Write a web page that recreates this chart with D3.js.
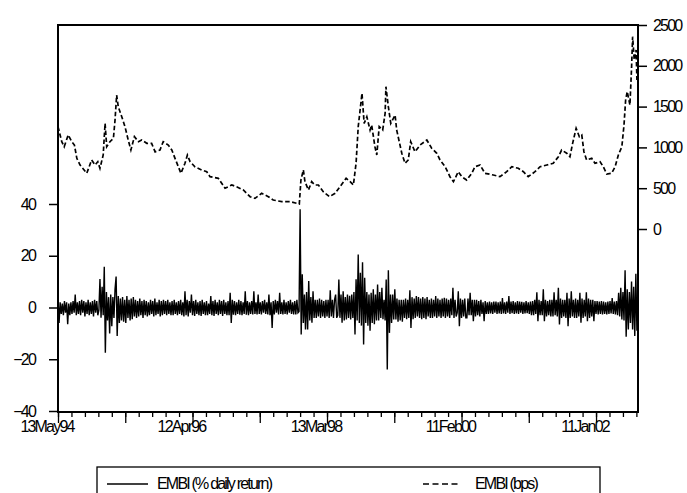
<!DOCTYPE html>
<html><head><meta charset="utf-8">
<script src="https://cdn.jsdelivr.net/npm/d3@7"></script>
<style>
html,body{margin:0;padding:0;background:#fff;}
svg text{font-family:"Liberation Sans",Arial,sans-serif;font-size:16px;letter-spacing:-1.8px;fill:#000;}
</style></head>
<body><svg id="c" width="687" height="493"></svg>
<script>
// ---------- data ----------
const dateLabels = ["13May94","12Apr96","13Mar98","11Feb00","11Jan02"];
const dateLabelObs = [0,500,1000,1500,2000];
const leftTicks = [-40,-20,0,20,40];
const rightTicks = [0,500,1000,1500,2000,2500];
const seriesNames = ["EMBI (% daily return)","EMBI (bps)"];
const nObs = 2156;

// EMBI spread level (bps), observation index
const levelObs = [0,14,23,38,51,61,70,82,107,125,138,148,156,168,175,181,193,206,212,218,224,237,249,261,271,284,299,311,330,348,361,379,391,410,423,435,457,472,481,491,509,534,553,565,596,621,646,664,689,714,732,757,782,800,832,862,887,897,903,912,918,931,943,955,968,986,1009,1030,1048,1071,1086,1098,1108,1116,1123,1130,1138,1148,1160,1166,1178,1185,1194,1207,1216,1219,1228,1237,1253,1259,1278,1290,1302,1311,1327,1346,1371,1389,1408,1420,1439,1457,1470,1488,1501,1519,1538,1550,1569,1587,1618,1643,1668,1687,1711,1730,1748,1773,1792,1817,1841,1860,1872,1891,1903,1913,1926,1938,1947,1955,1965,1984,1996,2015,2027,2040,2058,2071,2083,2096,2104,2110,2116,2126,2132,2136,2142,2149,2152];
const levelBps = [1254,1070,1009,1152,1070,1029,866,784,683,846,784,825,744,907,1295,1009,1070,1112,1336,1642,1499,1376,1254,1091,968,1131,1070,1091,1050,1050,946,968,1070,1029,968,866,683,805,907,825,763,723,702,641,621,499,539,518,478,396,376,437,396,355,335,335,315,306,600,723,580,478,580,539,539,457,396,437,518,621,580,539,805,1254,1458,1663,1295,1376,1213,1275,1009,907,1254,1213,1418,1744,1499,1295,1397,1213,928,805,846,1070,947,1029,1091,989,928,846,763,641,580,702,641,600,683,763,784,683,662,641,702,763,744,702,641,702,763,784,805,886,968,928,886,1050,1234,1131,1152,947,846,866,805,825,763,674,683,763,907,1009,1275,1581,1683,1520,1969,2357,2071,2194,1826];

// daily return (%), one reading every 4 observations
const returnStep = 4;
const returns = [
3.5,-6,2,-2.5,1.5,-3,2.5,-2,2,-6.5,1.5,-3,2,-2.5,2.5,-2,5,-3,2,-2.5,
2.5,-3,3,-2,2.5,-3.5,2,-2.5,3,-3,2,-2.5,2.5,-3.5,3,-2,2.5,-3,-1,11,
-4,8,-3,15.7,-17.5,6,-5,4,-10,5,-7.2,4,-4,7,12,-11,4.4,-6,3.5,-5,
4,-5.5,3,-6,4.4,-4,3,-5,3.5,-4.5,4,-3.5,3,-4,2.5,-3.5,3.5,-3,2.5,-4,
3,-3,2.5,-3.5,2,-3,3,-2.5,2.5,-3.5,3.5,-3,2,-2.5,3,-3.5,2.5,-3,3,-2.5,
2.5,-3,3,-2.5,2,-3,2.5,-3,3,-2.5,2,-3,2.5,-2.5,3,-3,2,-3.5,6.3,-3,
3,-3.5,2.5,-2,5,-3,2.5,-3.3,3,-2.5,2,-3,2.5,-3.3,3,-2.5,2,-3,2.5,-3,
1.5,-2.5,4.4,-3,2.5,-3.3,3,-2.5,2,-3,3,-2.5,2.5,-3.3,3,-2.5,2,-3,2.5,-3,
5.7,-6,3,-2.8,2.5,-3,2,-2.5,3,-2.8,2.5,-3,2,-2.5,6.3,-2.8,2.5,-3,2,-2.5,
2.5,-2.7,6.3,-2.5,2,-2.7,5,-2.5,2,-2.7,2.5,-2,3,-2.5,2,-2.7,5,-3,2,-7.9,
2.5,-2.7,3,-2,2.5,-2.7,5.7,-2.5,2,-2.7,3,-2.5,2,-2.7,2.5,-2,3,-2.5,2,-2.7,
2.5,-2.7,3,-2,-1.5,38,-10.4,12.8,-6,5,-8.5,6,-8.5,10.2,-5,4,-5.9,6.3,-4,3,
-4,3,-3.5,3.5,-4,3,-3.5,2.5,-4,3,-3.5,3,-4,6.7,-3.5,3,-4,3,5,-4,
-3,10.8,-4,5,-5.9,6.3,-5,4,-4.6,5,-4,4.5,-4.6,5,-4,6,-10.4,10.9,-5,20.5,
-6,13.4,-7,17.5,-14.3,11.5,-6,6,-7,5,-9,5.7,-6,7,-6.5,5,-5,8.9,-5,6,
-4,7.6,-4.5,3,-5,10.8,-24,14.4,-9.8,5,-6,5,-4.6,7,-4.6,3.5,-5.5,3,-5,3,
-5.5,3,-4,3.5,-4.5,3,-4,6.7,-7.9,4,-4.5,3.5,-4,4.4,-3.5,4,-4,3.5,-4.5,4,
-4,3.5,-4.5,4,-3.5,3,-4,3.5,-4,3,-3.5,4.4,-4,3.5,-3.5,3,-4,3.5,-3.5,3.8,
-4,3.5,-3.5,3,-4,3.5,-3,7.6,-4,3,-3.5,-2,6.3,-7.2,3.5,-4,3,-3.5,3.5,-4,
-4,3.5,-3,5.7,-3,3,-5.3,3,-3.5,3,-3,2.5,-3.5,3,-2.5,2,-5.3,2.5,-2.5,2,
-2.5,2.3,-2.3,2,-2.5,2.3,-2,2.3,-2.5,2,-2.3,2.3,-2.5,3.7,-2.3,2,-2.5,2.3,-2,4.4,
-2.5,2.3,-2.2,2.5,-2.5,2,-2.3,2.5,-2.5,2.3,-2,2.2,-2.5,2,-2.3,2.5,-2.2,2,-2.5,2.3,
-3,2.5,-3,3,-2.5,5.9,-5.3,3,-3,2.5,-3,7,-5.3,3,-3.5,2.5,-3,3,-3.5,3,
-3.5,5.9,-3,3,-3.5,7.6,-6.6,3.5,-4,3,-3.5,3,-4,5.7,-7.2,3.5,-4,6.3,-3.5,3,
-4,3.5,-4,3,-3.5,5.7,-5.9,3.5,-4,3,-3.5,5.9,-5.3,3.5,-4,3,-3.5,3,-5.3,2.5,
-2.5,2.5,-2.7,2.3,-2.5,2.5,-2.7,2.3,-2.5,2,-2.7,2.3,-2.5,2.5,-2.3,3.7,-2.5,2.3,-2.7,2.5,
-3,5.7,-3.5,7.6,-4.6,6,-5,14.4,-11.3,7,-8.5,6,-6,10,-8.5,8,-11,13,-9
];

// ---------- layout ----------
const L = 58, R = 638, T = 25, B = 412;
const svg = d3.select("#c");

const x = d3.scaleLinear().domain([0, nObs]).range([L, R]);
const yL = d3.scaleLinear().domain([-40, 40]).range([411, 204]);
const yR = d3.scaleLinear().domain([0, 2500]).range([229, 25]);

svg.append("clipPath").attr("id","pc").append("rect")
  .attr("x",L).attr("y",T).attr("width",R-L).attr("height",B-T);

const plot = svg.append("g").attr("clip-path","url(#pc)");

const levelData = levelObs.map((o,i)=>({o, v: levelBps[i]}));
const retData = returns.map((v,i)=>({o: i*returnStep, v}));

plot.append("path").datum(levelData)
  .attr("fill","none").attr("stroke","#000").attr("stroke-width",1.7)
  .attr("stroke-dasharray","4.5,2.5")
  .attr("d", d3.line().x(d=>x(d.o)).y(d=>yR(d.v)));

plot.append("path").datum(retData)
  .attr("fill","none").attr("stroke","#000").attr("stroke-width",1.4)
  .attr("d", d3.line().x(d=>x(d.o)).y(d=>yL(d.v)));

// left axis
const gl = svg.append("g").attr("transform",`translate(${L},0)`)
  .call(d3.axisLeft(yL).tickValues(leftTicks).tickSize(9).tickPadding(14).tickFormat(d3.format("d")));
gl.select(".domain").remove();
gl.selectAll("line").attr("stroke-width",1.5);

// right axis
const gr = svg.append("g").attr("transform",`translate(${R},0)`)
  .call(d3.axisRight(yR).tickValues(rightTicks).tickSize(9).tickPadding(6).tickFormat(d3.format("d")));
gr.select(".domain").remove();
gr.selectAll("line").attr("stroke-width",1.5);

// bottom axis: minor every 50, major every 250
const gbm = svg.append("g").attr("transform",`translate(0,${B})`)
  .call(d3.axisBottom(x).tickValues(d3.range(0, nObs, 50)).tickSize(5).tickFormat(""));
gbm.select(".domain").remove();
gbm.selectAll("line").attr("stroke-width",1.3);
const gbM = svg.append("g").attr("transform",`translate(0,${B})`)
  .call(d3.axisBottom(x).tickValues(d3.range(0, nObs, 250)).tickSize(11).tickFormat(""));
gbM.select(".domain").remove();
gbM.selectAll("line").attr("stroke-width",1.3);

svg.append("g").selectAll("text").data(dateLabels).join("text")
  .attr("x",(d,i)=>x(dateLabelObs[i]) - 11)
  .attr("y", 432)
  .attr("text-anchor","middle")
  .text(d=>d);

// frame
svg.append("rect").attr("x",L).attr("y",T).attr("width",R-L).attr("height",B-T)
  .attr("fill","none").attr("stroke","#000").attr("stroke-width",2);

// legend
const lg = svg.append("g");
lg.append("rect").attr("x",97).attr("y",467).attr("width",503).attr("height",40)
  .attr("fill","none").attr("stroke","#000").attr("stroke-width",1.3);
lg.append("line").attr("x1",107).attr("x2",148).attr("y1",484).attr("y2",484)
  .attr("stroke","#000").attr("stroke-width",1.5);
lg.append("text").attr("x",157).attr("y",489).text(seriesNames[0]);
lg.append("line").attr("x1",423).attr("x2",460).attr("y1",484).attr("y2",484)
  .attr("stroke","#000").attr("stroke-width",1.5).attr("stroke-dasharray","6,3.5");
lg.append("text").attr("x",475).attr("y",489).text(seriesNames[1]);
</script></body></html>
